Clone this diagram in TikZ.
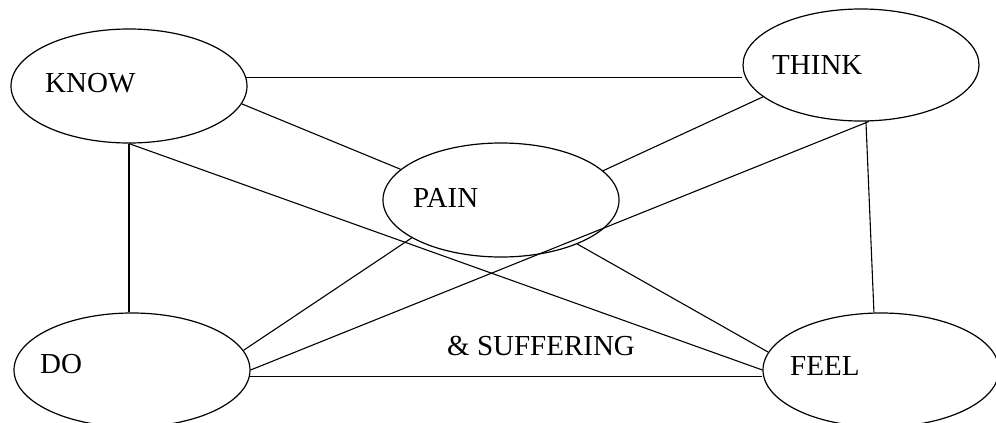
\documentclass[tikz,border=0pt]{standalone}
\usepackage{fontspec}
\setmainfont{Liberation Serif}
\usetikzlibrary{shapes.geometric}
\begin{document}
\begin{tikzpicture}[x=1pt,y=-1pt,
  oval/.style={draw, ellipse, line width=1.2pt, minimum width=236pt, minimum height=114pt, inner sep=0pt},
  lbl/.style={anchor=base west, inner sep=0pt, font=\fontsize{29}{30}\selectfont},
  conn/.style={line width=1.1pt}]
\useasboundingbox (0,0) rectangle (996,423);
\clip (0,0) rectangle (996,423);
\fill[white] (0,0) rectangle (996,423);
% ellipses
\node[oval] (know) at (129,86) {};
\node[oval, minimum height=112pt] (think) at (861,65) {};
\node[oval] (pain) at (501,200) {};
\node[oval] (do) at (132,370) {};
\node[oval] (feel) at (881,370) {};
% labels
\node[lbl] (tknow) at (45,92) {KNOW};
\node[lbl] (tthink) at (772,74) {THINK};
\node[lbl] (tpain) at (413,207) {PAIN};
\node[lbl] (tdo) at (40,373) {DO};
\node[lbl] (tfeel) at (790,375) {FEEL};
\node[lbl] (tsuf) at (447,355) {\&\ SUFFERING};
% connectors
\draw[conn] (know.4) -- (know.4 -| think.west);
\draw[conn] (know.-9.5) -- (pain.163.5);
\draw[conn] (know.south) -- (feel.west);
\draw[conn] (know.south) -- (know.south |- do.north);
\draw[conn] (think.198) -- (pain.16.5);
\draw[conn] (think.-82) -- (do.east);
\draw[conn] (think.-85) -- (feel.97);
\draw[conn] (pain.-30) -- (feel.171);
\draw[conn] (pain.203.6) -- (do.10.2);
\draw[conn] (do.-3.5) -- (do.-3.5 -| feel.west);
\end{tikzpicture}
\end{document}
